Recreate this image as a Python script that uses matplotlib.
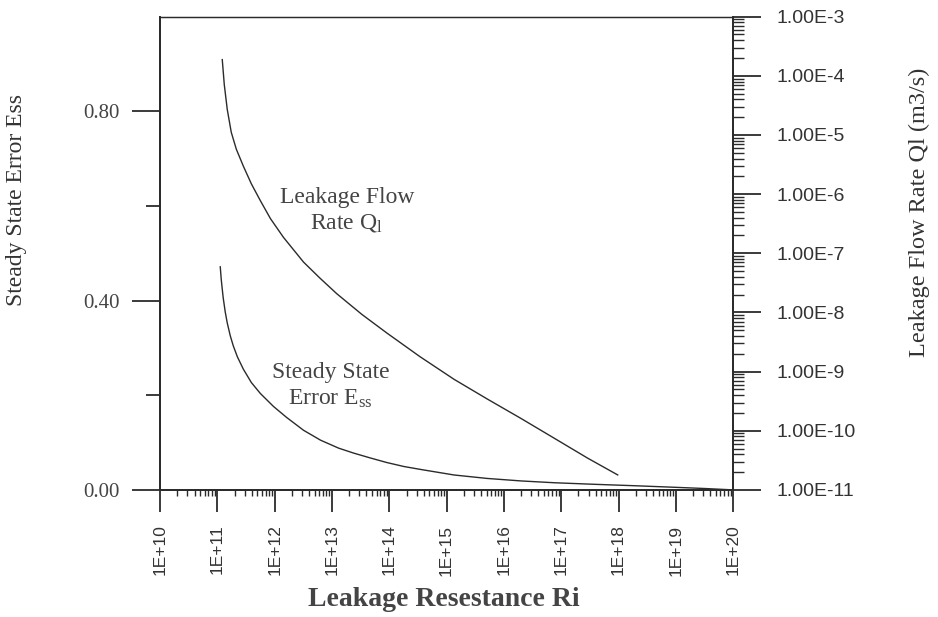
import matplotlib
matplotlib.use("Agg")
import matplotlib.pyplot as plt
import matplotlib.ticker as mticker
import numpy as np

# leakage resistance (log10 Ri) and steady state error Ess
ess_logR = [11.051, 11.068, 11.086, 11.103, 11.138, 11.173, 11.226, 11.278,
            11.349, 11.454, 11.594, 11.751, 11.979, 12.207, 12.504, 12.802,
            13.117, 13.380, 13.678, 13.958, 14.256, 14.553, 15.131, 15.709,
            16.305, 16.883, 17.583, 18.284, 18.984, 19.510, 20.000]
ess_val = [0.4714, 0.4451, 0.4241, 0.4053, 0.3759, 0.3528, 0.3255, 0.3045,
           0.2814, 0.2551, 0.2268, 0.2037, 0.1764, 0.1533, 0.1260, 0.1050,
           0.0882, 0.0777, 0.0672, 0.0578, 0.0494, 0.0431, 0.0315, 0.0242,
           0.0189, 0.0151, 0.0118, 0.0088, 0.0055, 0.0029, 0.0]

# leakage resistance (log10 Ri) and leakage flow rate Ql (log10 m3/s)
q_logR = [11.086, 11.121, 11.173, 11.243, 11.331, 11.453, 11.594, 11.751,
          11.926, 12.154, 12.504, 12.785, 13.082, 13.520, 13.958, 14.536,
          15.131, 15.709, 16.305, 16.883, 17.461, 17.986]
q_logQ = [-3.726, -4.147, -4.568, -4.955, -5.240, -5.525, -5.827, -6.111,
          -6.413, -6.731, -7.149, -7.415, -7.682, -8.032, -8.348, -8.748,
          -9.131, -9.463, -9.796, -10.129, -10.463, -10.747]

x_decades = list(range(10, 21))
q_decades = list(range(-11, -2))

ink = '#2b2b2b'
serif = 'Liberation Serif'
sans = 'Liberation Sans'

plt.rcParams['mathtext.fontset'] = 'custom'
plt.rcParams['mathtext.rm'] = serif
plt.rcParams['mathtext.it'] = serif + ':italic'

fig = plt.figure(figsize=(9.38, 6.17), dpi=100)
ax = fig.add_axes([0.1706, 0.206, 0.611, 0.767])
ax2 = ax.twinx()

ax.plot(10.0 ** np.array(ess_logR), ess_val, color=ink, lw=1.0)
ax2.plot(10.0 ** np.array(q_logR), 10.0 ** np.array(q_logQ), color=ink, lw=1.0)

ax.set_xscale('log')
ax.set_xlim(1e10, 1e20)
ax.set_ylim(0, 1.0)
ax2.set_yscale('log')
ax2.set_ylim(1e-11, 1e-3)

for a in (ax, ax2):
    for s in a.spines.values():
        s.set_color(ink)
        s.set_linewidth(1.3)
ax.spines['top'].set_linewidth(0.9)
ax2.spines['top'].set_linewidth(0.9)

# x axis ticks
ax.set_xticks([10.0 ** d for d in x_decades])
ax.set_xticklabels(['1E+%d' % d for d in x_decades], rotation=90,
                   fontfamily=sans, fontsize=12.5, color='#333333')
ax.xaxis.set_minor_locator(mticker.LogLocator(base=10, subs=np.arange(2, 10), numticks=100))
ax.xaxis.set_minor_formatter(mticker.NullFormatter())
ax.tick_params(axis='x', which='major', direction='out', length=16, width=1.3,
               color=ink, pad=9)
ax.tick_params(axis='x', which='minor', direction='out', length=4, width=1.0, color=ink)

# left y axis
ax.set_yticks([0.0, 0.4, 0.8])
ax.set_yticklabels(['0.00', '0.40', '0.80'], fontfamily=serif, fontsize=15, color='#444444')
ax.set_yticks([0.2, 0.6], minor=True)
ax.tick_params(axis='y', which='major', direction='out', length=20, width=1.3,
               color=ink, pad=9)
ax.tick_params(axis='y', which='minor', direction='out', length=10, width=1.3, color=ink)

# right y axis
ax2.set_yticks([10.0 ** d for d in q_decades])
ax2.set_yticklabels(['1.00E%d' % d for d in q_decades], fontfamily=sans,
                    fontsize=14, color='#333333')
ax2.yaxis.set_minor_locator(mticker.LogLocator(base=10, subs=np.arange(2, 10), numticks=100))
ax2.yaxis.set_minor_formatter(mticker.NullFormatter())
ax2.tick_params(axis='y', which='major', direction='out', length=20, width=1.3,
                color=ink, pad=11)
ax2.tick_params(axis='y', which='minor', direction='out', length=8, width=1.0, color=ink)

# axis titles
fig.text(0.018, 0.676, 'Steady State Error Ess', rotation=90, ha='center', va='center',
         fontfamily=serif, fontsize=17, color='#333333')
fig.text(0.980, 0.656, 'Leakage Flow Rate Ql (m3/s)', rotation=90, ha='center', va='center',
         fontfamily=serif, fontsize=17.5, color='#333333')
fig.text(0.473, 0.028, 'Leakage Resestance Ri', ha='center', va='center',
         fontfamily=serif, fontsize=20, fontweight='bold', color='#444444')

# curve labels
ax.text(10 ** 13.26, 0.59, 'Leakage Flow\nRate Q$_\\mathrm{l}$', ha='center', va='center',
        fontfamily=serif, fontsize=17, color='#444444', linespacing=1.25)
ax.text(10 ** 12.98, 0.22, 'Steady State\nError E$_\\mathrm{ss}$', ha='center', va='center',
        fontfamily=serif, fontsize=17, color='#444444', linespacing=1.25)

fig.savefig('out.png', dpi=100)
